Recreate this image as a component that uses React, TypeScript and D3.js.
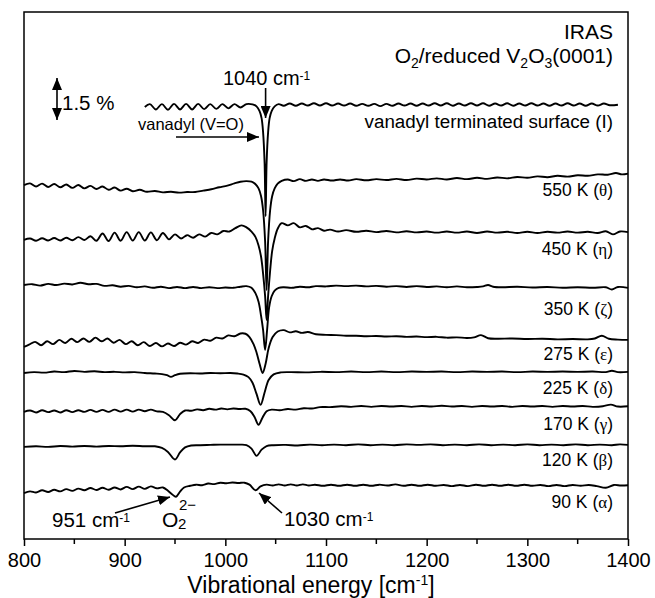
import { useEffect, useRef } from 'react';
import * as d3 from 'd3';

// spectra: [wavenumber cm-1, change in %] relative to each trace's offset
const specI = [
  [920, 0.0], [925, 0.1], [931, -0.09], [937, 0.1], [943, -0.1], [949, 0.11], [955, -0.09], [961, 0.11],
  [967, -0.09], [973, 0.11], [979, -0.08], [985, 0.1], [991, -0.07], [997, 0.1], [1003, -0.05], [1009, 0.1],
  [1015, -0.02], [1021, 0.1], [1027, 0.09], [1031, 0.02], [1034, -0.15], [1036, -0.4], [1037.5, -0.9],
  [1039, -2.0], [1040, -3.9], [1041, -2.0], [1042.5, -0.9], [1044, -0.4], [1046, -0.15], [1049, 0.02],
  [1053, 0.1], [1058, 0.04], [1064, 0.12], [1070, 0.04], [1076, 0.12], [1082, 0.05], [1088, 0.13], [1094, 0.05],
  [1100, 0.13], [1106, 0.05], [1112, 0.12], [1118, 0.05], [1124, 0.12], [1130, 0.04], [1136, 0.11], [1142, 0.04],
  [1148, 0.11], [1154, 0.03], [1160, 0.11], [1166, 0.04], [1172, 0.12], [1178, 0.05], [1184, 0.12], [1190, 0.04],
  [1196, 0.12], [1202, 0.05], [1208, 0.13], [1214, 0.05], [1220, 0.13], [1226, 0.04], [1232, 0.12], [1238, 0.05],
  [1244, 0.13], [1250, 0.05], [1256, 0.13], [1262, 0.04], [1268, 0.12], [1274, 0.05], [1280, 0.13], [1286, 0.04],
  [1292, 0.12], [1298, 0.05], [1304, 0.13], [1310, 0.05], [1316, 0.12], [1322, 0.04], [1328, 0.12], [1334, 0.05],
  [1340, 0.13], [1346, 0.05], [1352, 0.12], [1358, 0.04], [1364, 0.12], [1370, 0.05], [1376, 0.12], [1382, 0.06],
  [1390, 0.08],
];

const spec550 = [
  [800, 0.0], [806, 0.06], [812, -0.05], [818, 0.05], [824, -0.07], [830, 0.04], [836, -0.08], [842, 0.02],
  [848, -0.1], [854, 0.0], [860, -0.12], [866, -0.03], [872, -0.14], [878, -0.05], [884, -0.17], [890, -0.09],
  [896, -0.2], [902, -0.13], [908, -0.22], [915, -0.17], [922, -0.24], [930, -0.21], [938, -0.26], [946, -0.24],
  [954, -0.27], [962, -0.25], [970, -0.25], [978, -0.2], [986, -0.15], [994, -0.08], [1002, -0.02], [1009, 0.06],
  [1015, 0.12], [1021, 0.14], [1026, 0.12], [1030, 0.03], [1033, -0.12], [1035.5, -0.4], [1037.5, -0.9],
  [1039.5, -2.0], [1041, -3.75], [1042.5, -2.0], [1044.5, -0.9], [1046.5, -0.4], [1049, -0.12], [1052, 0.05],
  [1056, 0.15], [1062, 0.2], [1068, 0.14], [1074, 0.21], [1080, 0.15], [1086, 0.2], [1092, 0.15], [1098, 0.2],
  [1106, 0.16], [1114, 0.2], [1122, 0.16], [1130, 0.21], [1140, 0.17], [1150, 0.21], [1160, 0.18], [1170, 0.22],
  [1180, 0.18], [1190, 0.23], [1200, 0.2], [1210, 0.24], [1220, 0.2], [1230, 0.25], [1240, 0.21], [1250, 0.26],
  [1260, 0.22], [1270, 0.27], [1280, 0.24], [1290, 0.29], [1300, 0.26], [1310, 0.31], [1320, 0.28], [1330, 0.33],
  [1340, 0.3], [1350, 0.35], [1360, 0.33], [1370, 0.38], [1380, 0.37], [1388, 0.43], [1394, 0.38], [1400, 0.41],
];

const spec450 = [
  [800, 0.0], [806, 0.05], [812, -0.03], [818, 0.06], [824, -0.02], [830, 0.07], [836, -0.02], [842, 0.08],
  [848, -0.01], [854, 0.1], [860, 0.0], [866, 0.13], [872, -0.03], [878, 0.23], [884, -0.04], [890, 0.26],
  [896, -0.03], [902, 0.28], [908, -0.02], [914, 0.28], [920, -0.02], [926, 0.27], [932, -0.01], [938, 0.25],
  [944, 0.02], [950, 0.2], [956, 0.05], [962, 0.17], [968, 0.08], [974, 0.2], [980, 0.12], [986, 0.25],
  [992, 0.2], [998, 0.32], [1004, 0.3], [1010, 0.42], [1016, 0.52], [1021, 0.45], [1026, 0.3], [1030, 0.1],
  [1033, -0.2], [1035.5, -0.6], [1037.5, -1.2], [1039.5, -2.0], [1041, -2.86], [1042.5, -2.0], [1044.5, -1.1],
  [1046.5, -0.4], [1049, 0.05], [1052, 0.4], [1056, 0.6], [1062, 0.52], [1068, 0.6], [1074, 0.45], [1080, 0.5],
  [1086, 0.38], [1092, 0.42], [1098, 0.33], [1104, 0.37], [1112, 0.3], [1120, 0.35], [1130, 0.29], [1140, 0.33],
  [1150, 0.28], [1160, 0.32], [1170, 0.27], [1180, 0.31], [1190, 0.27], [1200, 0.3], [1210, 0.26], [1220, 0.3],
  [1230, 0.26], [1240, 0.3], [1250, 0.25], [1260, 0.3], [1270, 0.26], [1280, 0.29], [1290, 0.25], [1300, 0.29],
  [1310, 0.25], [1320, 0.29], [1330, 0.26], [1340, 0.3], [1350, 0.26], [1360, 0.29], [1370, 0.25], [1378, 0.31],
  [1385, 0.2], [1392, 0.3], [1400, 0.28],
];

const spec350 = [
  [800, 0.0], [808, 0.03], [816, -0.02], [824, 0.04], [832, 0.0], [840, 0.05], [848, 0.02], [856, 0.08],
  [864, 0.03], [872, 0.04], [880, -0.03], [888, -0.01], [896, -0.06], [904, -0.03], [912, -0.08], [920, -0.05],
  [928, -0.1], [936, -0.06], [944, -0.11], [952, -0.07], [960, -0.11], [968, -0.07], [976, -0.11], [984, -0.08],
  [992, -0.11], [1000, -0.09], [1008, -0.1], [1015, -0.06], [1021, -0.04], [1026, -0.1], [1030, -0.3],
  [1033, -0.6], [1035.5, -1.1], [1037.5, -1.6], [1039.5, -2.32], [1041.5, -1.6], [1043.5, -0.8], [1046, -0.4],
  [1049, -0.2], [1053, -0.1], [1058, -0.08], [1066, -0.1], [1074, -0.06], [1082, -0.08], [1090, -0.04],
  [1100, -0.05], [1110, -0.02], [1120, -0.04], [1130, -0.02], [1140, -0.05], [1150, -0.03], [1160, -0.06],
  [1170, -0.04], [1180, -0.07], [1190, -0.04], [1200, -0.07], [1210, -0.05], [1220, -0.08], [1230, -0.05],
  [1240, -0.08], [1250, -0.07], [1256, -0.05], [1261, 0.0], [1266, -0.06], [1275, -0.08], [1290, -0.06],
  [1305, -0.09], [1320, -0.07], [1335, -0.1], [1350, -0.08], [1365, -0.1], [1378, -0.08], [1384, -0.16],
  [1390, -0.07], [1400, -0.1],
];

const spec275 = [
  [800, 0.0], [805, 0.08], [811, 0.18], [817, 0.06], [823, 0.2], [829, 0.1], [835, 0.25], [841, 0.14],
  [847, 0.29], [853, 0.17], [859, 0.3], [865, 0.18], [871, 0.33], [877, 0.2], [883, 0.3], [889, 0.15],
  [895, 0.25], [901, 0.1], [907, 0.2], [913, 0.06], [919, 0.17], [925, 0.03], [931, 0.14], [937, 0.02],
  [943, 0.12], [949, 0.03], [955, 0.15], [961, 0.08], [967, 0.2], [973, 0.14], [979, 0.26], [985, 0.22],
  [991, 0.33], [997, 0.3], [1003, 0.41], [1009, 0.38], [1015, 0.48], [1020, 0.47], [1024, 0.35], [1028, 0.1],
  [1031, -0.2], [1034, -0.6], [1037, -0.93], [1040, -0.6], [1043, -0.05], [1047, 0.35], [1052, 0.55],
  [1058, 0.6], [1064, 0.52], [1070, 0.56], [1076, 0.5], [1082, 0.53], [1090, 0.45], [1100, 0.43], [1110, 0.42],
  [1120, 0.4], [1130, 0.4], [1140, 0.38], [1150, 0.39], [1160, 0.37], [1170, 0.38], [1180, 0.36], [1190, 0.37],
  [1200, 0.35], [1210, 0.36], [1220, 0.33], [1230, 0.34], [1240, 0.32], [1247, 0.34], [1254, 0.42], [1261, 0.31],
  [1270, 0.29], [1285, 0.3], [1300, 0.28], [1315, 0.29], [1330, 0.27], [1345, 0.28], [1360, 0.27], [1367, 0.3],
  [1374, 0.4], [1381, 0.29], [1390, 0.26], [1400, 0.25],
];

const spec225 = [
  [800, 0.0], [810, 0.03], [820, 0.01], [830, 0.05], [840, 0.03], [850, 0.07], [860, 0.04], [870, 0.06],
  [880, 0.03], [890, 0.04], [900, 0.02], [910, 0.03], [920, 0.0], [930, -0.02], [937, -0.04], [942, -0.08],
  [946, -0.14], [950, -0.08], [955, -0.03], [965, -0.01], [975, -0.02], [985, 0.0], [995, -0.01], [1005, 0.0],
  [1012, -0.02], [1018, -0.06], [1023, -0.15], [1027, -0.35], [1031, -0.75], [1035, -1.14], [1039, -0.7],
  [1043, -0.25], [1048, -0.05], [1055, 0.02], [1065, 0.03], [1080, 0.02], [1095, 0.04], [1110, 0.03],
  [1125, 0.05], [1140, 0.03], [1155, 0.05], [1170, 0.03], [1185, 0.05], [1200, 0.04], [1215, 0.05],
  [1230, 0.03], [1245, 0.05], [1260, 0.04], [1275, 0.05], [1290, 0.03], [1305, 0.05], [1320, 0.04],
  [1335, 0.05], [1350, 0.04], [1365, 0.05], [1378, 0.03], [1384, 0.08], [1390, 0.03], [1400, 0.04],
];

const spec170 = [
  [800, 0.0], [806, 0.05], [812, -0.02], [818, 0.06], [824, -0.01], [830, 0.05], [836, -0.02], [842, 0.06],
  [848, -0.01], [854, 0.06], [860, 0.0], [866, 0.07], [872, 0.0], [878, 0.07], [884, 0.0], [890, 0.08],
  [896, 0.01], [902, 0.08], [908, 0.01], [914, 0.08], [920, 0.02], [926, 0.08], [932, 0.02], [938, 0.0],
  [944, -0.12], [950, -0.3], [955, -0.08], [960, 0.05], [966, 0.04], [972, 0.09], [978, 0.06], [984, 0.11],
  [990, 0.08], [996, 0.12], [1002, 0.09], [1008, 0.12], [1014, 0.1], [1020, 0.11], [1025, 0.02], [1029, -0.18],
  [1033, -0.46], [1037, -0.2], [1041, 0.02], [1046, 0.08], [1054, 0.06], [1062, 0.1], [1070, 0.08],
  [1078, 0.13], [1086, 0.12], [1094, 0.17], [1104, 0.17], [1115, 0.2], [1125, 0.18], [1135, 0.21],
  [1145, 0.18], [1155, 0.21], [1165, 0.19], [1175, 0.21], [1185, 0.18], [1195, 0.21], [1205, 0.19],
  [1215, 0.22], [1225, 0.19], [1235, 0.21], [1245, 0.18], [1255, 0.21], [1265, 0.19], [1275, 0.21],
  [1285, 0.18], [1295, 0.21], [1305, 0.19], [1315, 0.21], [1325, 0.18], [1335, 0.21], [1345, 0.19],
  [1355, 0.21], [1365, 0.18], [1375, 0.2], [1383, 0.26], [1390, 0.19], [1400, 0.2],
];

const spec120 = [
  [800, 0.0], [812, 0.02], [824, 0.0], [836, 0.03], [848, 0.01], [860, 0.03], [872, 0.01], [884, 0.03],
  [896, 0.02], [908, 0.04], [920, 0.02], [930, 0.02], [937, -0.04], [943, -0.18], [950, -0.45], [955, -0.2],
  [960, -0.02], [966, 0.05], [975, 0.06], [985, 0.07], [995, 0.08], [1005, 0.08], [1015, 0.08], [1021, 0.06],
  [1026, -0.06], [1031, -0.32], [1036, -0.1], [1041, 0.03], [1048, 0.06], [1060, 0.07], [1072, 0.05],
  [1084, 0.08], [1096, 0.06], [1108, 0.08], [1120, 0.06], [1132, 0.09], [1144, 0.06], [1156, 0.08],
  [1168, 0.06], [1180, 0.09], [1192, 0.07], [1204, 0.09], [1216, 0.06], [1228, 0.08], [1240, 0.06],
  [1252, 0.09], [1264, 0.06], [1276, 0.08], [1288, 0.06], [1300, 0.09], [1312, 0.06], [1324, 0.08],
  [1336, 0.06], [1348, 0.09], [1360, 0.06], [1372, 0.08], [1384, 0.06], [1392, 0.09], [1400, 0.07],
];

const spec90 = [
  [800, 0.0], [806, 0.06], [812, 0.02], [818, 0.1], [824, 0.04], [830, 0.12], [836, 0.06], [842, 0.14],
  [848, 0.08], [854, 0.16], [860, 0.1], [866, 0.18], [872, 0.11], [878, 0.19], [884, 0.12], [890, 0.2],
  [896, 0.13], [902, 0.22], [908, 0.14], [914, 0.23], [920, 0.15], [926, 0.24], [932, 0.17], [938, 0.2],
  [943, 0.08], [947, -0.04], [951, -0.13], [955, 0.05], [959, 0.2], [965, 0.26], [971, 0.3], [977, 0.28],
  [983, 0.34], [989, 0.32], [995, 0.37], [1001, 0.35], [1007, 0.38], [1013, 0.36], [1019, 0.37], [1024, 0.3],
  [1030, 0.1], [1035, 0.24], [1041, 0.3], [1047, 0.27], [1053, 0.31], [1059, 0.27], [1065, 0.31],
  [1071, 0.27], [1077, 0.31], [1083, 0.27], [1089, 0.3], [1097, 0.26], [1105, 0.3], [1113, 0.26],
  [1121, 0.3], [1129, 0.26], [1137, 0.3], [1145, 0.26], [1153, 0.3], [1161, 0.27], [1169, 0.31],
  [1177, 0.26], [1185, 0.3], [1193, 0.26], [1201, 0.3], [1209, 0.26], [1217, 0.29], [1225, 0.25],
  [1233, 0.29], [1241, 0.25], [1249, 0.3], [1257, 0.26], [1265, 0.3], [1273, 0.26], [1281, 0.3],
  [1289, 0.26], [1297, 0.3], [1305, 0.26], [1313, 0.29], [1321, 0.25], [1329, 0.29], [1337, 0.25],
  [1345, 0.29], [1353, 0.26], [1361, 0.29], [1369, 0.25], [1378, 0.19], [1386, 0.29], [1393, 0.27], [1400, 0.28],
];

const spectra = [specI, spec550, spec450, spec350, spec275, spec225, spec170, spec120, spec90];
// vertical offset of each trace (%)
const offsets = [15.43, 12.64, 10.68, 9.07, 6.86, 5.93, 4.54, 3.29, 1.64];
const traceLabels = ['vanadyl terminated surface (I)', '550 K (', '450 K (', '350 K (', '275 K (', '225 K (', '170 K (', '120 K (', '90 K ('];
const greek = ['', 'θ', 'η', 'ζ', 'ε', 'δ', 'γ', 'β', 'α'];
const labelY = [128, 196, 255, 315, 360, 394, 430, 466, 508];

const xTicks = [800, 900, 1000, 1100, 1200, 1300, 1400];
const xMinor = [850, 950, 1050, 1150, 1250, 1350];

export default function App() {
  const ref = useRef(null);

  useEffect(() => {
    const svg = d3.select(ref.current);
    svg.selectAll('*').remove();
    const font = '"Liberation Sans", Arial, Helvetica, sans-serif';
    const serif = '"Liberation Serif", "Times New Roman", serif';

    const x = d3.scaleLinear().domain([800, 1400]).range([24, 628]);
    const y = d3.scaleLinear().domain([0, 18.82]).range([539, 12]);

    svg.append('defs').append('marker')
      .attr('id', 'head')
      .attr('viewBox', '0 0 12 10')
      .attr('refX', 12).attr('refY', 5)
      .attr('markerWidth', 12).attr('markerHeight', 10)
      .attr('markerUnits', 'userSpaceOnUse')
      .attr('orient', 'auto-start-reverse')
      .append('path').attr('d', 'M0,0 L12,5 L0,10 Z').attr('fill', '#000');

    // frame
    svg.append('rect')
      .attr('x', 24).attr('y', 12).attr('width', 604).attr('height', 527)
      .attr('fill', 'none').attr('stroke', '#000').attr('stroke-width', 1.5);

    // x axis
    const ax = svg.append('g').attr('transform', 'translate(0,539)')
      .call(d3.axisBottom(x).tickValues(xTicks).tickSize(7).tickSizeOuter(0).tickFormat(d3.format('d')));
    ax.select('.domain').remove();
    ax.selectAll('line').attr('stroke', '#000').attr('stroke-width', 1.5);
    ax.selectAll('text').attr('font-family', font).attr('font-size', 20).attr('fill', '#000').attr('dy', null).attr('y', 28);
    svg.append('g').selectAll('line').data(xMinor).enter().append('line')
      .attr('x1', d => x(d)).attr('x2', d => x(d)).attr('y1', 539).attr('y2', 544)
      .attr('stroke', '#000').attr('stroke-width', 1.5);

    const title = svg.append('text').attr('x', 311).attr('y', 593).attr('text-anchor', 'middle')
      .attr('font-family', font).attr('font-size', 23);
    title.append('tspan').text('Vibrational energy [cm');
    title.append('tspan').attr('font-size', 14).attr('dy', -8).text('-1');
    title.append('tspan').attr('dy', 8).text(']');

    // spectra
    spectra.forEach((s, i) => {
      const line = d3.line()
        .x(d => x(d[0]))
        .y(d => y(offsets[i] + d[1]))
        .curve(d3.curveCatmullRom.alpha(0.5));
      svg.append('path').datum(s).attr('d', line)
        .attr('fill', 'none').attr('stroke', '#000').attr('stroke-width', 1.9)
        .attr('stroke-linejoin', 'round');
    });

    // trace labels
    traceLabels.forEach((t, i) => {
      const tx = svg.append('text').attr('x', 613).attr('y', labelY[i]).attr('text-anchor', 'end')
        .attr('font-family', font).attr('font-size', i === 0 ? 18.8 : 17.5);
      tx.append('tspan').text(t);
      if (greek[i]) {
        tx.append('tspan').attr('font-family', serif).attr('font-size', 17).text(greek[i]);
        tx.append('tspan').text(')');
      }
    });

    // header
    svg.append('text').attr('x', 613).attr('y', 39).attr('text-anchor', 'end')
      .attr('font-family', font).attr('font-size', 21).text('IRAS');
    const hd = svg.append('text').attr('x', 613).attr('y', 63).attr('text-anchor', 'end')
      .attr('font-family', font).attr('font-size', 21);
    hd.append('tspan').text('O');
    hd.append('tspan').attr('font-size', 14).attr('dy', 5).text('2');
    hd.append('tspan').attr('dy', -5).text('/reduced V');
    hd.append('tspan').attr('font-size', 14).attr('dy', 5).text('2');
    hd.append('tspan').attr('dy', -5).text('O');
    hd.append('tspan').attr('font-size', 14).attr('dy', 5).text('3');
    hd.append('tspan').attr('dy', -5).text('(0001)');

    // 1040 annotation
    const t1040 = svg.append('text').attr('x', x(1040) + 1).attr('y', 85).attr('text-anchor', 'middle')
      .attr('font-family', font).attr('font-size', 20);
    t1040.append('tspan').text('1040 cm');
    t1040.append('tspan').attr('font-size', 12).attr('dy', -5).text('-1');
    svg.append('line').attr('x1', x(1040)).attr('x2', x(1040)).attr('y1', 88).attr('y2', 118)
      .attr('stroke', '#000').attr('stroke-width', 1.6).attr('marker-end', 'url(#head)');

    // scale bar
    svg.append('line').attr('x1', 57).attr('x2', 57).attr('y1', 78).attr('y2', 78 + (y(0) - y(1.5)))
      .attr('stroke', '#000').attr('stroke-width', 1.6)
      .attr('marker-start', 'url(#head)').attr('marker-end', 'url(#head)');
    svg.append('text').attr('x', 62).attr('y', 110).attr('font-family', font).attr('font-size', 20.5).text('1.5 %');

    // vanadyl arrow
    svg.append('text').attr('x', 138).attr('y', 130).attr('font-family', font).attr('font-size', 16.5)
      .text('vanadyl (V=O)');
    svg.append('line').attr('x1', 176).attr('x2', 259).attr('y1', 137).attr('y2', 137)
      .attr('stroke', '#000').attr('stroke-width', 1.6).attr('marker-end', 'url(#head)');

    // 951 annotation
    const t951 = svg.append('text').attr('x', 52).attr('y', 527).attr('font-family', font).attr('font-size', 20.5);
    t951.append('tspan').text('951 cm');
    t951.append('tspan').attr('font-size', 12).attr('dy', -5).text('-1');
    svg.append('line').attr('x1', 115).attr('y1', 513).attr('x2', 170).attr('y2', 497)
      .attr('stroke', '#000').attr('stroke-width', 1.6).attr('marker-end', 'url(#head)');
    svg.append('text').attr('x', 162).attr('y', 527).attr('font-family', font).attr('font-size', 21).text('O');
    svg.append('text').attr('x', 178).attr('y', 529).attr('font-family', font).attr('font-size', 15).text('2');
    svg.append('text').attr('x', 179).attr('y', 510).attr('font-family', font).attr('font-size', 15).text('2−');

    // 1030 annotation
    const t1030 = svg.append('text').attr('x', 284).attr('y', 526).attr('font-family', font).attr('font-size', 20.5);
    t1030.append('tspan').text('1030 cm');
    t1030.append('tspan').attr('font-size', 12).attr('dy', -5).text('-1');
    svg.append('line').attr('x1', 282).attr('y1', 513).attr('x2', 259).attr('y2', 493)
      .attr('stroke', '#000').attr('stroke-width', 1.6).attr('marker-end', 'url(#head)');
  }, []);

  return (
    <svg ref={ref} width={655} height={598}
      style={{ position: 'absolute', left: 0, top: 0, background: '#fff' }} />
  );
}
